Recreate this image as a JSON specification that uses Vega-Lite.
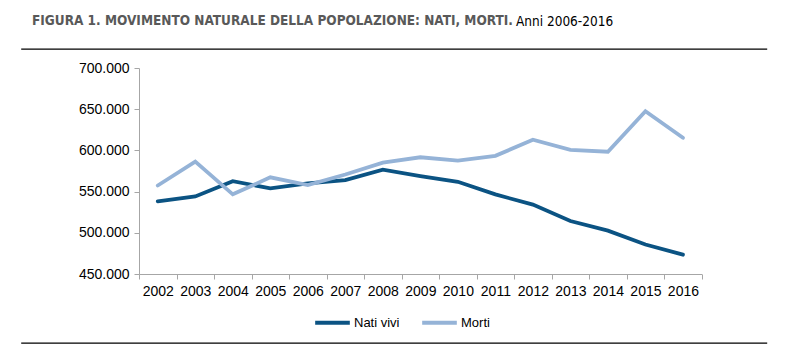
{
  "$schema": "https://vega.github.io/schema/vega-lite/v6.json",
  "autosize": "none",
  "width": 746,
  "height": 294,
  "padding": {"left": 21, "top": 49, "right": 27, "bottom": 20},
  "background": "white",
  "title": {
    "text": "FIGURA 1. MOVIMENTO NATURALE DELLA POPOLAZIONE: NATI, MORTI.",
    "subtitle": "Anni 2006-2016",
    "anchor": "start",
    "frame": "group",
    "orient": "top",
    "dx": 11,
    "offset": 21,
    "font": "DejaVu Sans Condensed, Liberation Sans Narrow, sans-serif",
    "fontSize": 13.5,
    "fontWeight": "bold",
    "color": "#595959",
    "subtitleFont": "DejaVu Sans Condensed, Liberation Sans Narrow, sans-serif",
    "subtitleFontSize": 13.5,
    "subtitleFontWeight": "normal",
    "subtitleColor": "#000000",
    "subtitlePadding": 0,
    "encode": {"subtitle": {"update": {"dx": {"value": 495}, "dy": {"value": -13}}}}
  },
  "config": {
    "locale": {"number": {"decimal": ",", "thousands": ".", "grouping": [3], "currency": ["€", ""]}},
    "view": {"stroke": "#000000", "strokeWidth": 1.3, "strokeDash": [746, 294, 746, 294]},
    "font": "Liberation Sans",
    "axis": {
      "labelFont": "Liberation Sans",
      "labelFontSize": 14,
      "labelColor": "#000000",
      "domainColor": "#a6a6a6",
      "tickColor": "#a6a6a6",
      "tickSize": 5,
      "grid": false,
      "title": null
    }
  },
  "data": {
    "values": [
      {"anno": "2002", "serie": "Nati vivi", "valore": 538198},
      {"anno": "2003", "serie": "Nati vivi", "valore": 544063},
      {"anno": "2004", "serie": "Nati vivi", "valore": 562599},
      {"anno": "2005", "serie": "Nati vivi", "valore": 554022},
      {"anno": "2006", "serie": "Nati vivi", "valore": 560010},
      {"anno": "2007", "serie": "Nati vivi", "valore": 563933},
      {"anno": "2008", "serie": "Nati vivi", "valore": 576659},
      {"anno": "2009", "serie": "Nati vivi", "valore": 568857},
      {"anno": "2010", "serie": "Nati vivi", "valore": 561944},
      {"anno": "2011", "serie": "Nati vivi", "valore": 546585},
      {"anno": "2012", "serie": "Nati vivi", "valore": 534186},
      {"anno": "2013", "serie": "Nati vivi", "valore": 514308},
      {"anno": "2014", "serie": "Nati vivi", "valore": 502596},
      {"anno": "2015", "serie": "Nati vivi", "valore": 485780},
      {"anno": "2016", "serie": "Nati vivi", "valore": 473438},
      {"anno": "2002", "serie": "Morti", "valore": 557393},
      {"anno": "2003", "serie": "Morti", "valore": 586468},
      {"anno": "2004", "serie": "Morti", "valore": 546658},
      {"anno": "2005", "serie": "Morti", "valore": 567304},
      {"anno": "2006", "serie": "Morti", "valore": 557892},
      {"anno": "2007", "serie": "Morti", "valore": 570801},
      {"anno": "2008", "serie": "Morti", "valore": 585126},
      {"anno": "2009", "serie": "Morti", "valore": 591663},
      {"anno": "2010", "serie": "Morti", "valore": 587488},
      {"anno": "2011", "serie": "Morti", "valore": 593402},
      {"anno": "2012", "serie": "Morti", "valore": 612883},
      {"anno": "2013", "serie": "Morti", "valore": 600744},
      {"anno": "2014", "serie": "Morti", "valore": 598364},
      {"anno": "2015", "serie": "Morti", "valore": 647571},
      {"anno": "2016", "serie": "Morti", "valore": 615261}
    ]
  },
  "mark": {"type": "line", "strokeWidth": 3.8, "strokeJoin": "miter", "strokeCap": "round"},
  "encoding": {
    "x": {
      "field": "anno",
      "type": "ordinal",
      "scale": {"type": "band", "range": [118, 680.7], "paddingInner": 0, "paddingOuter": 0},
      "axis": {"orient": "bottom", "offset": -69, "labelAngle": 0, "tickBand": "extent", "labelPadding": 5}
    },
    "y": {
      "field": "valore",
      "type": "quantitative",
      "scale": {"domain": [450000, 700000], "range": [225, 19], "nice": false, "zero": false},
      "axis": {"orient": "left", "offset": -118, "values": [450000, 500000, 550000, 600000, 650000, 700000], "format": ",d", "labelPadding": 5}
    },
    "color": {
      "field": "serie",
      "type": "nominal",
      "sort": ["Nati vivi", "Morti"],
      "scale": {"domain": ["Nati vivi", "Morti"], "range": ["#0b5383", "#95b3d7"]},
      "legend": {
        "title": null,
        "orient": "none",
        "legendX": 292,
        "legendY": 254,
        "direction": "horizontal",
        "symbolType": "stroke",
        "symbolSize": 1200,
        "symbolStrokeWidth": 4,
        "labelFont": "Liberation Sans",
        "labelFontSize": 13,
        "labelColor": "#000000",
        "labelOffset": 2,
        "columnPadding": 14
      }
    }
  }
}
